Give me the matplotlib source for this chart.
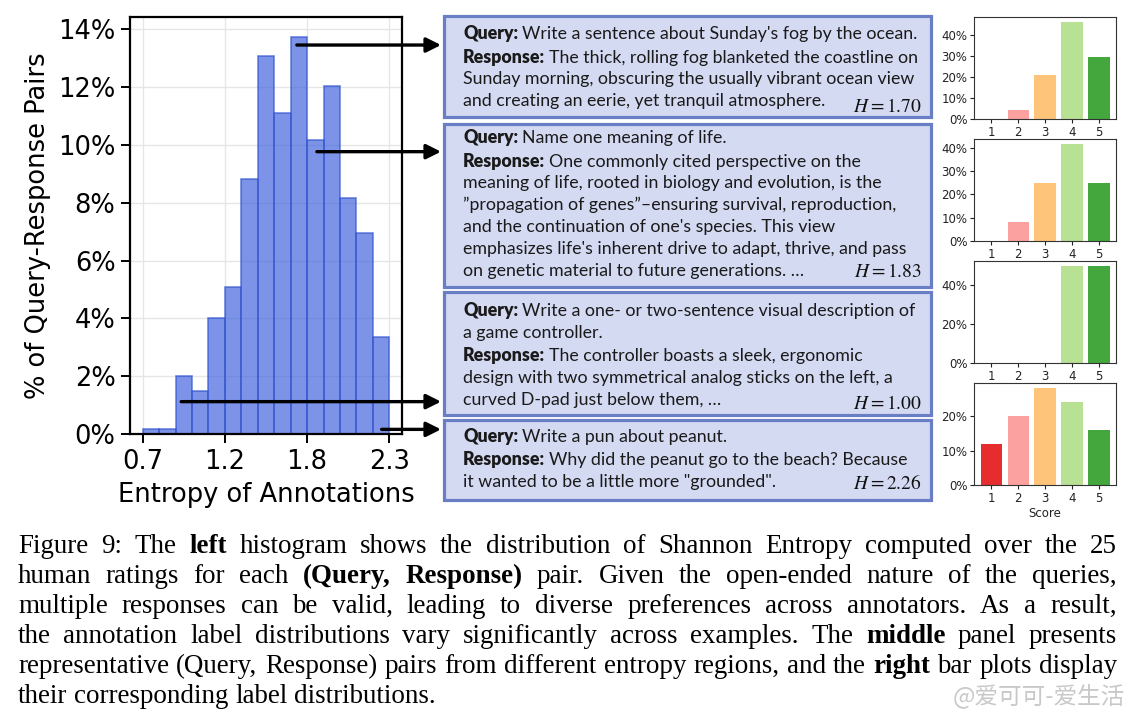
import matplotlib
matplotlib.use("Agg")
import matplotlib.pyplot as plt
import numpy as np
from matplotlib.patches import Rectangle
from matplotlib.transforms import blended_transform_factory

# ---------------- data ----------------
bin_edges = np.linspace(0.7, 2.3, 16)
hist_pct = [0.16, 0.16, 2.02, 1.49, 4.03, 5.10, 8.82, 13.08, 11.10,
            13.75, 10.16, 12.03, 8.15, 6.95, 3.34]
hist_xticks = np.linspace(0.7, 2.3, 4)
hist_xticklabels = ["0.7", "1.2", "1.8", "2.3"]
hist_yticks = [0, 2, 4, 6, 8, 10, 12, 14]

entropies = [1.70, 1.83, 1.00, 2.26]
arrow_x = [1.70, 1.83, 0.95, 2.25]
arrow_y = [13.46, 9.77, 1.12, 0.16]

queries = [
    ["Write a sentence about Sunday's fog by the ocean."],
    ["Name one meaning of life."],
    ["Write a one- or two-sentence visual description of", "a game controller."],
    ["Write a pun about peanut."],
]
responses = [
    ["The thick, rolling fog blanketed the coastline on",
     "Sunday morning, obscuring the usually vibrant ocean view",
     "and creating an eerie, yet tranquil atmosphere."],
    ["One commonly cited perspective on the",
     "meaning of life, rooted in biology and evolution, is the",
     "\u201dpropagation of genes\u201d\u2013ensuring survival, reproduction,",
     "and the continuation of one's species. This view",
     "emphasizes life's inherent drive to adapt, thrive, and pass",
     "on genetic material to future generations. \u2026"],
    ["The controller boasts a sleek, ergonomic",
     "design with two symmetrical analog sticks on the left, a",
     "curved D-pad just below them, \u2026"],
    ["Why did the peanut go to the beach? Because",
     "it wanted to be a little more \"grounded\"."],
]

scores = [1, 2, 3, 4, 5]
score_colors = ["#e31a1c", "#fb9a99", "#fdbf6f", "#b2df8a", "#33a02c"]
score_pct = [
    [0.0, 4.17, 20.83, 45.83, 29.17],
    [0.0, 8.33, 25.0, 41.67, 25.0],
    [0.0, 0.0, 0.0, 50.0, 50.0],
    [12.0, 20.0, 28.0, 24.0, 16.0],
]
score_yticks = [
    [0, 10, 20, 30, 40],
    [0, 10, 20, 30, 40],
    [0, 20, 40],
    [0, 10, 20],
]

caption_lines = [
    "Figure 9: The **left** histogram shows the distribution of Shannon Entropy computed over the 25",
    "human ratings for each **(Query,** **Response)** pair. Given the open-ended nature of the queries,",
    "multiple responses can be valid, leading to diverse preferences across annotators. As a result,",
    "the annotation label distributions vary significantly across examples. The **middle** panel presents",
    "representative (Query, Response) pairs from different entropy regions, and the **right** bar plots display",
    "their corresponding label distributions.",
]
watermark = "@爱可可-爱生活"

# ---------------- figure ----------------
plt.rcParams["mathtext.fontset"] = "stix"
W, H = 1135, 721
fig = plt.figure(figsize=(W / 100, H / 100), dpi=100)
fig.patch.set_facecolor("white")


def fx(px):
    return px / W


def fy(py):
    return 1 - py / H


# histogram
ax = fig.add_axes([fx(130), fy(434), fx(402) - fx(130), fy(17) - fy(434)])
ax.bar(bin_edges[:-1], hist_pct, width=np.diff(bin_edges), align="edge",
       color="#4466dd", alpha=0.7, edgecolor="#3355d0", linewidth=1.2, zorder=2)
ax.set_xlim(0.618, 2.382)
ax.set_ylim(0, 14.43)
ax.set_xticks(hist_xticks)
ax.set_xticklabels(hist_xticklabels)
ax.set_yticks(hist_yticks)
ax.set_yticklabels([f"{v}%" for v in hist_yticks])
ax.grid(True, color="#e6e6e6", linewidth=1.0, zorder=0)
ax.set_axisbelow(True)
for s in ax.spines.values():
    s.set_color("black")
    s.set_linewidth(1.6)
ax.tick_params(labelsize=18.5, length=6.5, width=1.4, pad=4, colors="black")
ax.set_xlabel("Entropy of Annotations", fontsize=18.5, labelpad=5)
ax.set_ylabel("% of Query-Response Pairs", fontsize=18.5, labelpad=5)

# arrows
blend = blended_transform_factory(fig.transFigure, ax.transData)
for xa, ya in zip(arrow_x, arrow_y):
    ax.annotate("", xy=(fx(441), ya), xycoords=blend,
                xytext=(xa, ya), textcoords="data",
                arrowprops=dict(arrowstyle="-|>", color="black", lw=2.4,
                                mutation_scale=22, shrinkA=0, shrinkB=0),
                annotation_clip=False, zorder=5)

# text boxes
box_y = [(16, 117), (124, 287), (292, 415), (420, 500)]
box_x0, box_x1 = 444, 931
text_x = 463
first_base = [39, 143, 316, 442]
h_base = [112, 277, 409, 489]
line_gap = 21.8
qr_gap = 23.5
txt_kw = dict(family="Lato", fontsize=12.8, color="#1a1a1a", va="baseline")

renderer = fig.canvas.get_renderer()

for i in range(4):
    y0, y1 = box_y[i]
    rect = Rectangle((fx(box_x0), fy(y1)), fx(box_x1) - fx(box_x0), fy(y0) - fy(y1),
                     transform=fig.transFigure, facecolor="#d5daf3",
                     edgecolor="#6a7ec6", linewidth=2.3, zorder=1)
    fig.add_artist(rect)
    base = first_base[i]
    for label, lines in (("Query:", queries[i]), ("Response:", responses[i])):
        t = fig.text(fx(text_x), fy(base), label, fontweight="heavy", **txt_kw)
        bb = t.get_window_extent(renderer)
        fig.text(fx(bb.x1 + 4), fy(base), lines[0], **txt_kw)
        for ln in lines[1:]:
            base += line_gap
            fig.text(fx(text_x), fy(base), ln, **txt_kw)
        base += qr_gap
    fig.text(fx(922), fy(h_base[i]), rf"$H = {entropies[i]:.2f}$", ha="right",
             va="baseline", fontsize=14, color="#111111")

# score bar panels
panel_tops = [17.3, 139, 261, 383.3]
panel_h = 102
for i in range(4):
    top = panel_tops[i]
    sax = fig.add_axes([fx(974.3), fy(top + panel_h), fx(1116) - fx(974.3), panel_h / H])
    sax.bar(scores, score_pct[i], color=score_colors, alpha=0.92, width=0.8)
    sax.set_xticks(scores)
    sax.set_yticks(score_yticks[i])
    sax.set_yticklabels([f"{v}%" for v in score_yticks[i]])
    sax.tick_params(labelsize=8.5, length=3, width=0.8, pad=2, colors="#222222")
    for s in sax.spines.values():
        s.set_color("#333333")
        s.set_linewidth(0.8)
    if i == 3:
        sax.set_xlabel("Score", fontsize=8.5, labelpad=1, color="#222222")

# caption (justified)
cap_left, cap_right = 18, 1117
cap_base0, cap_gap = 553, 30
cap_family = "Liberation Serif"


def measure(word, size, bold):
    t = fig.text(0, 0, word, fontsize=size, family=cap_family,
                 fontweight="bold" if bold else "normal")
    w = t.get_window_extent(renderer).width
    t.remove()
    return w


parsed = []
for line in caption_lines:
    toks = []
    for w in line.split():
        if w.startswith("**") and w.endswith("**"):
            toks.append((w[2:-2], True))
        else:
            toks.append((w, False))
    parsed.append(toks)

base_size = 12.0
space_w = measure("a a", base_size, False) - measure("aa", base_size, False)
ratios = []
for toks in parsed[:-1]:
    nat = sum(measure(w, base_size, b) for w, b in toks) + space_w * (len(toks) - 1)
    ratios.append((cap_right - cap_left) / nat)
cap_size = base_size * min(ratios) * 0.995

space_w = measure("a a", cap_size, False) - measure("aa", cap_size, False)
for li, toks in enumerate(parsed):
    widths = [measure(w, cap_size, b) for w, b in toks]
    if li < len(parsed) - 1:
        gap = ((cap_right - cap_left) - sum(widths)) / (len(toks) - 1)
    else:
        gap = space_w
    x = cap_left
    yb = cap_base0 + li * cap_gap
    for (w, b), wd in zip(toks, widths):
        fig.text(fx(x), fy(yb), w, fontsize=cap_size, family=cap_family,
                 fontweight="bold" if b else "normal", va="baseline", color="black")
        x += wd + gap

fig.text(fx(1125), fy(703), watermark, ha="right", va="baseline", fontsize=17,
         family=["Noto Sans CJK SC", "DejaVu Sans"], color="#bbbbbb", alpha=0.8)

fig.savefig("out.png", dpi=100, facecolor="white")
